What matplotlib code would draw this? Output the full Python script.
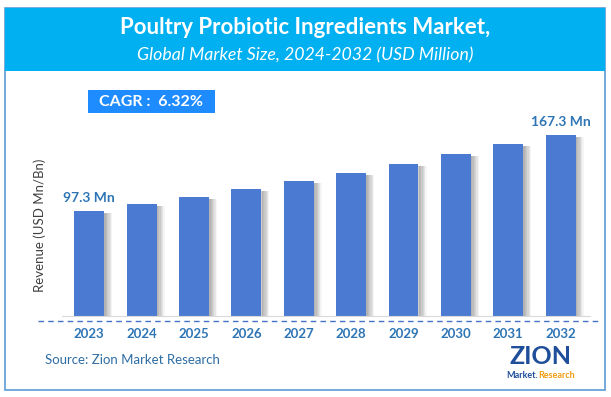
import matplotlib.pyplot as plt
from matplotlib.patches import Rectangle

plt.rcParams['font.family'] = ['Lato', 'DejaVu Sans']

# data
years = ['2023', '2024', '2025', '2026', '2027', '2028', '2029', '2030', '2031', '2032']
revenue = [97.3, 103.4, 109.9, 116.9, 124.3, 132.1, 140.5, 149.3, 158.8, 167.3]
first_label = '97.3 Mn'
last_label = '167.3 Mn'
cagr_text = 'CAGR :  6.32%'

W, H = 611, 397
fig = plt.figure(figsize=(W / 100, H / 100), dpi=100)


def fx(px):
    return px / W


def fy(py):
    return 1 - py / H


# outer frame and header band
fig.patches.append(Rectangle((fx(5), fy(390)), fx(600), (382) / H, transform=fig.transFigure,
                             facecolor='white', edgecolor='#5B9BD5', linewidth=1.2, zorder=-2))
fig.patches.append(Rectangle((fx(5), fy(71)), fx(600), 63 / H, transform=fig.transFigure,
                             facecolor='#00B0F0', edgecolor='none', zorder=-1))
fig.text(0.5, fy(28), 'Poultry Probiotic Ingredients Market,', ha='center', va='center',
         color='white', fontsize=16, fontweight='bold')
fig.text(0.5, fy(55), 'Global Market Size, 2024-2032 (USD Million)', ha='center', va='center',
         color='white', fontsize=12.8, style='italic')

# CAGR box
fig.patches.append(Rectangle((fx(88), fy(113)), fx(127), 23 / H, transform=fig.transFigure,
                             facecolor='#1E8CFF', edgecolor='none', zorder=-1))
fig.text(fx(151), fy(102), cagr_text, ha='center', va='center', color='white',
         fontsize=11.5, fontweight='bold')

# chart axes
left, right, bottom, top = 62, 590, 316, 110
ax = fig.add_axes([fx(left), fy(bottom), (right - left) / W, (bottom - top) / H])
ax.set_zorder(2)
ax.set_xlim(-0.52, 9.56)
ax.set_ylim(0, 190)
x = list(range(len(years)))

# soft shadows behind bars
for k in range(6):
    ax.bar([i + 0.29 + k * 0.025 for i in x], [v - 2 for v in revenue], width=0.05,
           color='#707070', alpha=0.34 - k * 0.055, linewidth=0, zorder=1)
ax.bar(x, revenue, width=0.57, color='#4A7AD2', zorder=2)

ax.text(x[0], revenue[0] + 6, first_label, ha='center', va='bottom', color='#2E75B6',
        fontsize=10, fontweight='bold')
ax.text(x[-1], revenue[-1] + 6, last_label, ha='center', va='bottom', color='#2E75B6',
        fontsize=10, fontweight='bold')

ax.set_xticks(x)
ax.set_xticklabels(years, fontsize=9.5, fontweight='bold', color='#2E75B6')
ax.tick_params(axis='x', length=0, pad=9)
ax.set_yticks([])
for s in ['top', 'right', 'left']:
    ax.spines[s].set_visible(False)
ax.spines['bottom'].set_color('#D9D9D9')
ax.patch.set_visible(False)

ax.set_ylabel('Revenue (USD Mn/Bn)', fontsize=9.5, color='#404040')
ax.yaxis.set_label_coords(-0.03, 0.44)

# dashed line under axis
fig.add_artist(plt.Line2D([fx(38), fx(600)], [fy(321), fy(321)], transform=fig.transFigure,
                          color='#4472C4', linestyle=(0, (4, 3)), linewidth=1))

fig.text(fx(45), fy(360), 'Source: Zion Market Research', ha='left', va='center',
         color='#2E6DA4', fontsize=9.5)

# logo
fig.text(fx(541), fy(356), 'ZION', ha='center', va='center', color='#1F4E9A',
         fontsize=18, fontweight='bold')
fig.text(fx(538), fy(375), 'Market.', ha='right', va='center', color='#1F4E9A',
         fontsize=6.5, fontweight='bold')
fig.text(fx(538), fy(375), 'Research', ha='left', va='center', color='#F39C12',
         fontsize=6.5, fontweight='bold')

fig.savefig('out.png', dpi=100)
